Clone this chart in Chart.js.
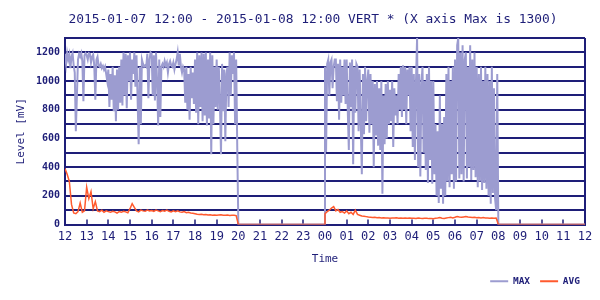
<!DOCTYPE html>
<html>
<head>
<meta charset="utf-8">
<script src="https://cdn.jsdelivr.net/npm/chart.js@4.4.1/dist/chart.umd.min.js"></script>
<style>
  html, body { margin: 0; padding: 0; background: #fff; }
  #wrap { width: 600px; height: 300px; }
</style>
</head>
<body>
<div id="wrap"><canvas id="levelChart"></canvas></div>
<script>
// --- DATA ---
const titleText = '2015-01-07 12:00 - 2015-01-08 12:00 VERT * (X axis Max is 1300)';
const hourLabels = ['12','13','14','15','16','17','18','19','20','21','22','23',
                    '00','01','02','03','04','05','06','07','08','09','10','11','12'];
const yTicks = [0, 200, 400, 600, 800, 1000, 1200];

const dayStart = 0;     // 12:00, hours from start of window
const nightStart = 12;  // 00:00
const axisEnd = 24;     // 12:00 next day
const maxStep = 0.05;   // 3 min between MAX samples
const avgStep = 0.1;    // 6 min between AVG samples

// MAX, 12:00 - 20:00
const maxDay = [
  1190, 1120, 1195, 1150, 1185, 1090, 1170, 1195, 1110, 1060,
  650, 900, 1150, 1190, 1170, 1195, 1140, 860, 1180, 1195,
  1180, 1150, 1195, 1190, 1130, 1170, 1185, 1110, 870, 1150,
  1170, 1110, 1100, 1120, 1090, 1105, 1080, 1100, 1050, 1000,
  1080, 820, 1050, 870, 1100, 790, 1040, 720, 1080, 800,
  1100, 850, 1150, 830, 1200, 900, 1190, 810, 1180, 1000,
  1200, 870, 1150, 1050, 1200, 960, 1180, 880, 560, 1100,
  700, 1150, 1120, 1100, 1110, 1100, 1190, 880, 1150, 1200,
  1190, 900, 1180, 865, 1200, 1000, 690, 1150, 750, 1100,
  1120, 1100, 1140, 1110, 1130, 1060, 1120, 1140, 1110, 1100,
  1130, 1080, 1120, 1150, 1200, 1110, 1190, 1100, 1060, 1100,
  1080, 850, 1100, 800, 1050, 730, 1100, 880, 1060, 840,
  1150, 780, 1200, 700, 1180, 820, 1200, 720, 1190, 760,
  1200, 690, 1150, 740, 1200, 490, 1180, 700, 1100, 820,
  1150, 800, 1100, 850, 490, 1120, 790, 1080, 580, 1050,
  1100, 820, 1200, 900, 1180, 1050, 1200, 700, 1150, 540
];

// MAX, 00:00 - 08:00
const maxNight = [
  1100, 505, 1120, 1150, 900, 1130, 1150, 950, 1100, 1150,
  1150, 860, 1120, 730, 1150, 850, 1100, 900, 1150, 840,
  1150, 800, 520, 1130, 820, 1150, 420, 1100, 780, 1120,
  1100, 650, 1080, 700, 350, 1050, 630, 1100, 720, 1000,
  1080, 640, 1050, 700, 1000, 400, 980, 620, 1000, 550,
  950, 520, 1000, 215, 900, 560, 980, 600, 1000, 700,
  940, 720, 1000, 540, 950, 760, 900, 700, 1050, 800,
  1100, 750, 1110, 800, 1100, 700, 1080, 900, 1100, 650,
  1100, 540, 1050, 450, 1000, 1300, 400, 1050, 335, 980,
  1100, 500, 1000, 380, 1050, 290, 1100, 450, 1000, 285,
  1000, 350, 700, 200, 650, 150, 900, 250, 700, 145,
  750, 200, 1050, 300, 1100, 260, 1000, 350, 1100, 250,
  1150, 300, 1250, 1300, 320, 1200, 350, 1250, 300, 1150,
  1200, 320, 1100, 400, 1250, 310, 1150, 380, 1200, 330,
  1100, 260, 1050, 300, 1100, 240, 1000, 290, 1100, 250,
  1050, 200, 1000, 145, 1100, 220, 950, 180, 100, 1050
];

// AVG, 12:00 - 20:00
const avgDay = [
  390, 350, 300, 140, 80, 75, 90, 150, 85, 95,
  260, 180, 230, 110, 160, 95, 90, 100, 85, 95,
  90, 85, 92, 88, 80, 90, 85, 92, 88, 82,
  110, 145, 120, 95, 88, 100, 95, 92, 100, 95,
  98, 92, 100, 95, 90, 97, 93, 100, 92, 88,
  95, 90, 96, 88, 85, 90, 82, 85, 80, 78,
  75, 72, 70, 72, 68, 70, 66, 68, 65, 67,
  64, 66, 68, 65, 64, 66, 63, 65, 64, 62
];

// AVG, 00:00 - 08:00
const avgNight = [
  75, 90, 100, 115, 125, 95, 105, 85, 90, 80,
  95, 75, 85, 70, 100, 70, 65, 60, 58, 55,
  52, 50, 48, 50, 47, 48, 46, 47, 45, 46,
  44, 46, 45, 47, 44, 45, 43, 46, 44, 45,
  43, 44, 42, 45, 43, 42, 44, 43, 41, 42,
  40, 43, 45, 48, 44, 42, 45, 48, 50, 46,
  50, 55, 52, 50, 53, 56, 52, 50, 48, 50,
  47, 48, 46, 48, 45, 46, 44, 45, 44, 45
];

// --- STYLE ---
const ink = '#1e1e78';
const maxColor = '#9c9cd0';
const avgColor = '#ff5a2e';
const mono = "'DejaVu Sans Mono', monospace";

// recorder logs only while running; between runs the level sits at zero
function toPoints(segments, step) {
  const pts = [];
  segments.forEach(seg => {
    if (pts.length) pts.push({ x: seg.start, y: 0 });
    seg.values.forEach((v, i) => pts.push({ x: seg.start + i * step, y: v }));
    pts.push({ x: seg.start + seg.values.length * step, y: 0 });
  });
  pts.push({ x: axisEnd, y: 0 });
  return pts;
}

const maxPoints = toPoints([{ start: dayStart, values: maxDay }, { start: nightStart, values: maxNight }], maxStep);
const avgPoints = toPoints([{ start: dayStart, values: avgDay }, { start: nightStart, values: avgNight }], avgStep);

// --- CHART ---
new Chart(document.getElementById('levelChart'), {
  type: 'line',
  data: {
    datasets: [
      { label: 'MAX', data: maxPoints, borderColor: maxColor, backgroundColor: maxColor, borderWidth: 2, pointRadius: 0, pointBorderWidth: 2, order: 1 },
      { label: 'AVG', data: avgPoints, borderColor: avgColor, backgroundColor: avgColor, borderWidth: 1.5, pointRadius: 0, pointBorderWidth: 2, order: 0 }
    ]
  },
  options: {
    responsive: true,
    maintainAspectRatio: false,
    animation: false,
    elements: { line: { tension: 0 } },
    layout: { padding: { left: 36, right: 10, top: 0, bottom: 4 } },
    plugins: {
      title: {
        display: true, text: titleText, color: ink,
        font: { family: mono, size: 12.9, weight: 'normal' },
        padding: { top: 12, bottom: 10.6 }
      },
      legend: {
        position: 'bottom', align: 'end',
        labels: {
          usePointStyle: true, pointStyle: 'line', pointStyleWidth: 18,
          color: ink, font: { family: mono, size: 9.5, weight: 'bold' }, padding: 10,
          sort: (a, b) => a.datasetIndex - b.datasetIndex
        }
      },
      tooltip: { enabled: false }
    },
    scales: {
      x: {
        type: 'linear', min: 0, max: axisEnd,
        afterFit: s => { s.height = 42; s.paddingRight = 15; },
        ticks: {
          stepSize: 1, autoSkip: false, maxRotation: 0, padding: 10, color: ink,
          font: { family: mono, size: 12 },
          callback: v => hourLabels[v]
        },
        grid: {
          color: c => (c.tick && c.tick.value === axisEnd) ? ink : 'transparent',
          lineWidth: 2, tickColor: ink, tickLength: -5, tickWidth: 1.5
        },
        border: { display: true, color: ink, width: 2 },
        title: { display: true, text: 'Time', color: ink, font: { family: mono, size: 11 }, padding: { top: 0, bottom: 1 } }
      },
      y: {
        min: 0, max: 1300,
        afterFit: s => { s.width = 29; },
        ticks: {
          stepSize: 100, autoSkip: false, padding: 5, color: ink,
          font: { family: mono, size: 10, weight: 'bold' },
          callback: v => yTicks.includes(v) ? v : ''
        },
        grid: { color: ink, lineWidth: 2, drawTicks: false },
        border: { display: true, color: ink, width: 2 },
        title: { display: true, text: 'Level [mV]', color: ink, font: { family: mono, size: 11 }, padding: { top: -21.6, bottom: 0 } }
      }
    }
  }
});
</script>
</body>
</html>
